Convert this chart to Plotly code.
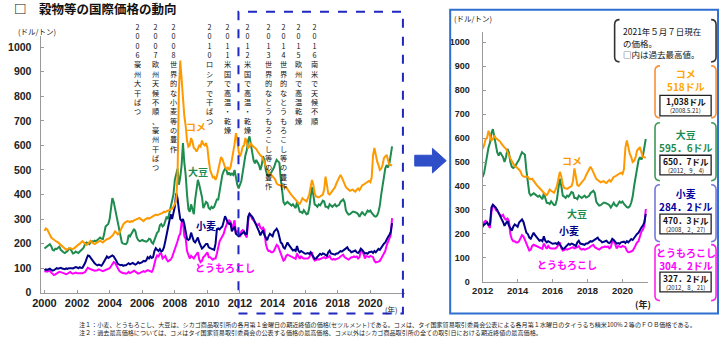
import plotly.graph_objects as go

W, H = 720, 343


def fx(x):
    return x / W


def fy(y):
    return 1 - y / H


START_YEAR = 2000

# monthly prices (USD/t), Jan 2000 .. May 2021
rice = [
    252, 262, 258, 245, 232, 225, 220, 215, 212, 208, 205, 200,
    195, 188, 182, 178, 175, 178, 180, 182, 180, 178, 182, 188,
    192, 196, 200, 205, 210, 205, 198, 195, 200, 208, 212, 205,
    200, 198, 202, 205, 210, 212, 208, 205, 210, 215, 218, 220,
    222, 228, 232, 240, 250, 245, 238, 242, 255, 270, 278, 285,
    290, 292, 290, 288, 292, 290, 295, 298, 300, 302, 305, 300,
    295, 292, 298, 300, 305, 302, 306, 310, 312, 315, 318, 316,
    318, 320, 322, 325, 330, 328, 332, 335, 338, 340, 342, 350,
    360, 380, 470, 820, 945, 870, 780, 720, 680, 620, 595, 600,
    630, 615, 590, 585, 575, 590, 600, 595, 620, 605, 600, 610,
    590, 540, 500, 485, 470, 472, 460, 475, 500, 530, 552, 545,
    525, 512, 505, 510, 500, 510, 540, 570, 605, 650, 625, 575,
    555, 570, 595, 600, 630, 610, 590, 595, 610, 600, 595, 590,
    585, 575, 565, 560, 555, 545, 530, 515, 505, 490, 482, 480,
    475, 468, 460, 445, 440, 438, 440, 438, 430, 428, 430, 420,
    415, 405, 398, 392, 388, 380, 372, 365, 362, 372, 385, 380,
    375, 372, 385, 400, 430, 459, 440, 405, 392, 390, 388, 392,
    395, 400, 420, 473, 440, 404, 400, 408, 412, 420, 430, 445,
    459, 470, 480, 470, 455, 440, 430, 425, 420, 415, 418, 420,
    415, 412, 420, 425, 418, 430, 438, 440, 445, 450, 452, 455,
    450, 470, 560, 590, 560, 535, 520, 500, 505, 520, 548, 555,
    562, 540, 521, 520, 518,
]

soybean = [
    180, 185, 190, 195, 198, 190, 175, 172, 180, 178, 182, 188,
    175, 168, 165, 162, 165, 170, 180, 178, 170, 160, 162, 168,
    165, 162, 168, 172, 178, 185, 200, 205, 200, 198, 205, 210,
    208, 212, 210, 215, 220, 225, 220, 218, 240, 270, 275, 280,
    300, 345, 385, 370, 340, 325, 290, 250, 225, 205, 200, 200,
    198, 205, 235, 230, 240, 255, 260, 250, 225, 215, 210, 212,
    215, 212, 210, 208, 212, 220, 218, 205, 200, 215, 235, 245,
    250, 275, 280, 270, 275, 295, 310, 300, 325, 350, 375, 400,
    460, 480, 505, 440, 470, 520, 610, 530, 480, 400, 340, 330,
    360, 340, 320, 380, 420, 460, 440, 420, 390, 345, 360, 370,
    365, 345, 340, 350, 345, 350, 365, 380, 380, 415, 460, 480,
    495, 505, 500, 480, 490, 480, 485, 480, 500, 460, 440, 425,
    438, 455, 490, 530, 560, 580, 620, 637, 600, 568, 540, 527,
    541, 530, 520, 500, 520, 555, 540, 500, 480, 475, 480, 490,
    500, 510, 527, 541, 535, 530, 466, 420, 370, 360, 365, 370,
    365, 360, 355, 360, 350, 345, 370, 345, 330, 329, 325, 336,
    325, 320, 322, 345, 390, 430, 400, 360, 356, 350, 360, 356,
    365, 375, 372, 350, 350, 345, 360, 356, 350, 355, 360, 352,
    355, 358, 370, 375, 380, 370, 335, 325, 318, 320, 325, 330,
    330, 328, 325, 320, 310, 320, 330, 320, 316, 325, 335, 330,
    335, 325, 318, 312, 310, 315, 330, 356, 400, 440, 480, 507,
    520, 510, 525, 560, 596,
]

wheat = [
    92, 95, 93, 96, 98, 94, 90, 92, 96, 100, 98, 100,
    102, 99, 98, 96, 99, 97, 100, 101, 100, 99, 104, 105,
    103, 100, 104, 101, 102, 110, 122, 138, 152, 150, 142, 132,
    125, 120, 115, 112, 115, 113, 110, 118, 128, 135, 148, 142,
    145, 150, 152, 148, 140, 130, 118, 115, 112, 114, 110, 112,
    112, 116, 120, 116, 118, 122, 118, 115, 118, 125, 120, 122,
    125, 130, 128, 132, 145, 140, 148, 142, 145, 170, 182, 175,
    170, 178, 168, 172, 185, 210, 240, 268, 305, 320, 300, 330,
    350, 405, 385, 339, 300, 292, 300, 280, 255, 219, 215, 220,
    245, 225, 210, 205, 215, 225, 205, 190, 180, 185, 195, 199,
    199, 185, 182, 179, 178, 175, 200, 259, 262, 258, 265, 270,
    290, 312, 300, 285, 280, 285, 250, 262, 270, 240, 235, 230,
    234, 240, 245, 248, 238, 240, 310, 322, 315, 310, 300, 285,
    274, 262, 250, 234, 245, 254, 235, 225, 214, 230, 240, 235,
    230, 248, 255, 261, 250, 230, 205, 200, 185, 180, 195, 205,
    195, 185, 180, 172, 175, 170, 190, 172, 165, 170, 165, 160,
    159, 160, 162, 158, 165, 155, 145, 138, 140, 148, 155, 159,
    155, 160, 158, 152, 150, 165, 172, 160, 158, 159, 155, 160,
    160, 165, 170, 168, 172, 175, 179, 185, 175, 172, 165, 168,
    170, 172, 165, 162, 168, 180, 175, 165, 160, 162, 159, 165,
    165, 168, 162, 170, 165, 172, 179, 175, 185, 195, 200, 205,
    220, 227, 235, 248, 284,
]

corn = [
    85, 88, 86, 88, 90, 82, 75, 72, 75, 80, 82, 85,
    85, 82, 80, 78, 76, 78, 82, 85, 80, 78, 80, 82,
    80, 80, 78, 78, 80, 82, 85, 95, 102, 98, 95, 92,
    92, 90, 90, 92, 95, 94, 90, 88, 90, 92, 95, 98,
    100, 108, 118, 125, 122, 110, 98, 90, 85, 82, 80, 80,
    78, 80, 85, 80, 82, 86, 90, 85, 80, 78, 80, 82,
    85, 88, 85, 90, 92, 90, 88, 85, 95, 120, 140, 152,
    148, 160, 160, 140, 145, 150, 135, 128, 132, 135, 145, 160,
    180, 195, 210, 230, 240, 285, 292, 230, 220, 170, 150, 140,
    150, 145, 140, 150, 160, 165, 135, 125, 130, 145, 150, 160,
    165, 145, 145, 140, 135, 140, 140, 160, 190, 210, 220, 230,
    240, 260, 275, 290, 295, 290, 265, 275, 295, 240, 250, 245,
    227, 250, 255, 250, 235, 225, 290, 322, 315, 300, 295, 285,
    280, 275, 280, 265, 260, 265, 255, 200, 179, 170, 170, 165,
    165, 170, 180, 195, 190, 175, 160, 152, 131, 135, 150, 155,
    152, 150, 148, 145, 140, 138, 160, 145, 138, 150, 142, 140,
    140, 142, 140, 145, 155, 165, 140, 131, 133, 138, 135, 138,
    140, 145, 145, 140, 142, 145, 150, 138, 135, 138, 135, 138,
    138, 142, 148, 150, 155, 145, 140, 138, 135, 140, 145, 145,
    148, 145, 148, 140, 145, 170, 170, 158, 140, 150, 148, 145,
    150, 148, 145, 130, 124, 125, 128, 130, 140, 152, 165, 170,
    193, 210, 218, 234, 304,
]

series_names = ["とうもろこし", "小麦", "大豆", "コメ"]
left_xticks = [2000, 2002, 2004, 2006, 2008, 2010, 2012, 2014, 2016, 2018, 2020]
right_xticks = [2012, 2014, 2016, 2018, 2020]
yticks = [0, 100, 200, 300, 400, 500, 600, 700, 800, 900, 1000]

event_years = ["2006", "2007", "2008", "2010", "2011", "2012", "2013", "2014", "2015", "2016"]
event_texts = ["豪州大干ばつ", "欧州天候不順、豪州干ばつ", "世界的な小麦等の豊作", "ロシアで干ばつ",
               "米国で高温・乾燥", "米国で高温・乾燥", "世界的なとうもろこし等の豊作",
               "世界的なとうもろこし等の豊作", "欧州で高温乾燥", "南米で天候不順"]

latest_price = ["304．2ドル", "284．2ドル", "595．6ドル", "518ドル"]
record_price = ["327．2ドル", "470．3ドル", "650．7ドル", "1,038ドル"]
record_date = ["(2012．8．21)", "(2008．2．27)", "(2012．9．4)", "(2008.5.21)"]
note_lines = ["2021年５月７日現在", "の価格。", "□内は過去最高値。"]

n = len(rice)
months = [START_YEAR + i / 12 for i in range(n)]
cut = (2012 - START_YEAR) * 12

COL_RICE = "#FF9900"
COL_SOY = "#1E8B4F"
COL_WHEAT = "#000088"
COL_CORN = "#FF00FF"
colors = [COL_CORN, COL_WHEAT, COL_SOY, COL_RICE]
values = [corn, wheat, soybean, rice]

JP = "'Noto Sans CJK JP', sans-serif"
NUM = "'Liberation Sans', Arial, 'Noto Sans CJK JP', sans-serif"

fig = go.Figure()
for name, vals, col in zip(series_names, values, colors):
    fig.add_trace(go.Scatter(x=months, y=vals, mode="lines", name=name,
                             line=dict(color=col, width=2), xaxis="x", yaxis="y",
                             showlegend=False, hoverinfo="skip"))
for name, vals, col in zip(series_names, values, colors):
    fig.add_trace(go.Scatter(x=months[cut:], y=vals[cut:], mode="lines", name=name,
                             line=dict(color=col, width=2), xaxis="x2", yaxis="y2",
                             showlegend=False, hoverinfo="skip"))

axis_common = dict(showline=True, linecolor="#9a9a9a", linewidth=1, ticks="inside",
                   ticklen=3, tickcolor="#9a9a9a", showgrid=False, zeroline=False)

fig.update_layout(
    width=W, height=H, autosize=False,
    margin=dict(l=0, r=0, t=0, b=0),
    paper_bgcolor="white", plot_bgcolor="white",
    xaxis=dict(domain=[fx(30), fx(400)], range=[1999.76, 2022.12], anchor="y",
               tickvals=left_xticks, ticktext=[f"<b>{t}</b>" for t in left_xticks],
               tickfont=dict(family=NUM, size=11, color="#222"), **axis_common),
    yaxis=dict(domain=[fy(298), fy(36.75)], range=[0, 1045], anchor="x",
               tickvals=yticks, ticktext=[f"<b>{t}</b>" for t in yticks],
               tickfont=dict(family=NUM, size=10.5, color="#222"), ticklabelstandoff=6,
               **axis_common),
    xaxis2=dict(domain=[fx(479), fx(646.7)], range=[2012, 2021.45], anchor="y2",
                tickvals=right_xticks, ticktext=[f"<b>{t}</b>" for t in right_xticks],
                tickfont=dict(family=NUM, size=9.5, color="#222"), **axis_common),
    yaxis2=dict(domain=[fy(287), fy(33)], range=[0, 1040], anchor="x2",
                tickvals=yticks, ticktext=[f"<b>{t}</b>" for t in yticks],
                tickfont=dict(family=NUM, size=9, color="#222"), ticklabelstandoff=10,
                **axis_common),
)

shapes = []
# left dashed frame (2012-)
shapes.append(dict(type="rect", xref="paper", yref="paper", x0=fx(231), x1=fx(398),
                   y0=fy(319), y1=fy(12), line=dict(color="#1E28C0", width=2, dash="dash")))
# right panel frame
shapes.append(dict(type="rect", xref="paper", yref="paper", x0=fx(446), x1=fx(718),
                   y0=fy(319), y1=fy(10), line=dict(color="#2F6FD0", width=2)))
# arrow
ax = [410, 428, 428, 442, 428, 428, 410]
ay = [158, 158, 151, 163.5, 176, 169, 169]
arrow_path = "M " + " L ".join(f"{fx(a)},{fy(b)}" for a, b in zip(ax, ay)) + " Z"
shapes.append(dict(type="path", xref="paper", yref="paper", path=arrow_path,
                   fillcolor="#2F4FC8", line=dict(color="#2F4FC8", width=1)))


def bracket(x0, x1, y0, y1, col, r=5, w=1.6):
    left = (f"M {fx(x0 + r)},{fy(y0)} Q {fx(x0)},{fy(y0)} {fx(x0)},{fy(y0 + r)} "
            f"L {fx(x0)},{fy(y1 - r)} Q {fx(x0)},{fy(y1)} {fx(x0 + r)},{fy(y1)}")
    right = (f"M {fx(x1 - r)},{fy(y0)} Q {fx(x1)},{fy(y0)} {fx(x1)},{fy(y0 + r)} "
             f"L {fx(x1)},{fy(y1 - r)} Q {fx(x1)},{fy(y1)} {fx(x1 - r)},{fy(y1)}")
    return [dict(type="path", xref="paper", yref="paper", path=p,
                 line=dict(color=col, width=w)) for p in (left, right)]


shapes += bracket(613, 716, 20, 63, "#333333")

box_y = [(249, 306), (188, 246), (125, 184), (67, 120)]   # corn, wheat, soy, rice
bracket_cols = ["#FF22EE", "#7777DD", "#3E9A55", "#F7913A"]
text_cols = ["#FF00FF", "#0000A0", "#1E8B4F", "#FFA500"]
inner_y = [(277, 297), (218, 238), (158, 178), (97, 118)]
head_y = [263.5, 204, 144, 81]
for (y0, y1), bc in zip(box_y, bracket_cols):
    shapes += bracket(654, 716, y0, y1, bc)
for (y0, y1) in inner_y:
    shapes.append(dict(type="rect", xref="paper", yref="paper", x0=fx(659), x1=fx(711),
                       y0=fy(y1), y1=fy(y0), line=dict(color="#222", width=1.3),
                       fillcolor="white"))

fig.update_layout(shapes=shapes)

ann = []


def add_text(x, y, text, size, color="#111", bold=False, xanchor="center",
             yanchor="middle", family=JP, align="center"):
    t = f"<b>{text}</b>" if bold else text
    ann.append(dict(x=fx(x), y=fy(y), xref="paper", yref="paper", text=t, showarrow=False,
                    xanchor=xanchor, yanchor=yanchor, align=align, borderpad=0,
                    font=dict(family=family, size=size, color=color)))


# title
add_text(2, 9, "□　穀物等の国際価格の動向", 12.5, "#111", True, xanchor="left")
add_text(6, 32, "(ドル/トン)", 7.5, "#222", xanchor="left")
add_text(449, 19, "(ドル/トン)", 7.5, "#222", xanchor="left")
add_text(386, 315, "(年)", 7.5, "#222")
add_text(642, 310, "(年)", 9, "#222", True)

# events (vertical text: one glyph per line)
event_x = [128, 147, 165, 202, 220, 240, 262, 277, 292, 308]
for yr, txt, xc in zip(event_years, event_texts, event_x):
    vert = "<br>".join(list(yr) + list(txt))
    add_text(xc, 21, vert, 7.2, "#111", yanchor="top")

# series labels on charts
left_lab_pos = [(217, 272), (198, 230), (190, 175), (188, 129)]
right_lab_pos = [(565, 269), (567, 235), (575, 217), (570, 163)]
for name, col, (lx, ly), (rx, ry) in zip(series_names, colors, left_lab_pos, right_lab_pos):
    add_text(lx, ly, name, 10, col, True)
    add_text(rx, ry, name, 10, col, True)

# note box
for i, line in enumerate(note_lines):
    add_text(620, 32 + i * 11.5, line, 8.5, "#111", xanchor="left")

# price boxes
for i, name in enumerate(series_names):
    iy0, iy1 = inner_y[i]
    add_text(685, head_y[i], f"{name}<br>{latest_price[i]}", 10, text_cols[i], True)
    add_text(685, iy0 + 6, record_price[i], 8.5, "#111", True)
    add_text(685, iy0 + 15.8, record_date[i], 6.0, "#222")

# footnotes
add_text(68, 330, "注１：小麦、とうもろこし、大豆は、シカゴ商品取引所の各月第１金曜日の期近終値の価格(セツルメント)である。コメは、タイ国家貿易取引委員会公表による各月第１水曜日のタイうるち精米100%２等のＦＯＢ価格である。",
         6.1, "#222", xanchor="left")
add_text(68, 338, "注２：過去最高価格については、コメはタイ国家貿易取引委員会の公表する価格の最高価格、コメ以外はシカゴ商品取引所の全ての取引日における期近終値の最高価格。",
         6.1, "#222", xanchor="left")

fig.update_layout(annotations=ann)
fig.write_html("out.html")
